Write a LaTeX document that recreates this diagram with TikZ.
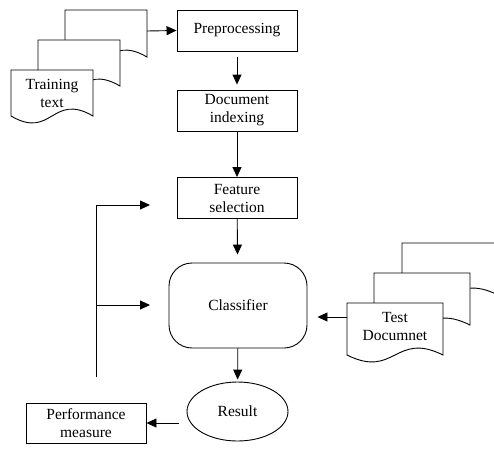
\documentclass[tikz,border=0pt]{standalone}
\usepackage{fontspec}
\setmainfont{Liberation Serif}
\usetikzlibrary{arrows.meta,shapes.geometric}

% one page of a document stack: top left x, y, width, height of right edge
\newcommand{\docpage}[4]{%
  \draw[fill=white] (#1,#2) -- ++(#3,0) -- ++(0,#4)
    .. controls +(-0.5*#3,-24) and +(0.5*#3,24) .. ++(-#3,0) -- cycle;}

\begin{document}
\begin{tikzpicture}
[x=1pt,y=-1pt,line width=0.9pt,
 every node/.style={font=\fontsize{15.5}{18}\selectfont,align=center,inner sep=0pt},
 arr/.style={-{Triangle[length=10pt,width=9pt]}}]
\tikzset{step box/.style={rectangle,draw,minimum width=120pt,minimum height=41pt}}
\tikzset{class box/.style={rectangle,draw,rounded corners=23pt,minimum width=138pt,minimum height=85pt}}
\tikzset{result node/.style={ellipse,draw,minimum width=101pt,minimum height=59pt}}

\path[use as bounding box,clip] (0,0) rectangle (494,448);

% main chain
\node(prep)[step box] at (237,30.5) {Preprocessing};
\node(index)[step box] at (237,110.5) {Document\\indexing};
\node(feat)[step box] at (237,198) {Feature\\selection};
\node(clf)[class box] at (238,305.5) {Classifier};
\node(res)[result node] at (237.5,411.5) {Result};
\node(perf)[step box,minimum height=40pt] at (86,423) {Performance\\measure};

\draw[arr,shorten <=6pt,shorten >=5pt] (prep) -- (index);
\draw[arr] (index) -- (feat);
\draw[arr,shorten >=8pt] (feat) -- (clf);
\draw[arr,shorten >=2pt] (clf) -- (res);
\draw[arr,shorten <=8pt] (res.west |- perf.east) -- (perf.east);

% training documents
\docpage{65}{10}{82}{47}
\docpage{38}{40}{82}{46}
\docpage{11}{70}{82}{46}
\node(train) at (52,93) {Training\\text};
\coordinate(trainout) at (147,31);
\draw[arr] (trainout) -- (prep.west);

% test documents
\docpage{402}{243}{96}{52}
\docpage{374}{273}{96}{52}
\docpage{347}{303}{96}{52}
\node(test) at (395,326) {Test\\Documnet};
\coordinate(testout) at (347,317);
\draw[arr,shorten >=10pt] (testout) -- (testout -| clf.east);

% feedback
\coordinate(fbbot) at (96,377);
\coordinate(fbtop) at (96,205);
\coordinate(fbmid) at (96,305);
\coordinate(fbtopend) at (150,205);
\coordinate(fbmidend) at (150,305);
\draw (fbbot) -- (fbtop);
\draw[arr] (fbtop) -- (fbtopend);
\draw[arr] (fbmid) -- (fbmidend);
\end{tikzpicture}
\end{document}
